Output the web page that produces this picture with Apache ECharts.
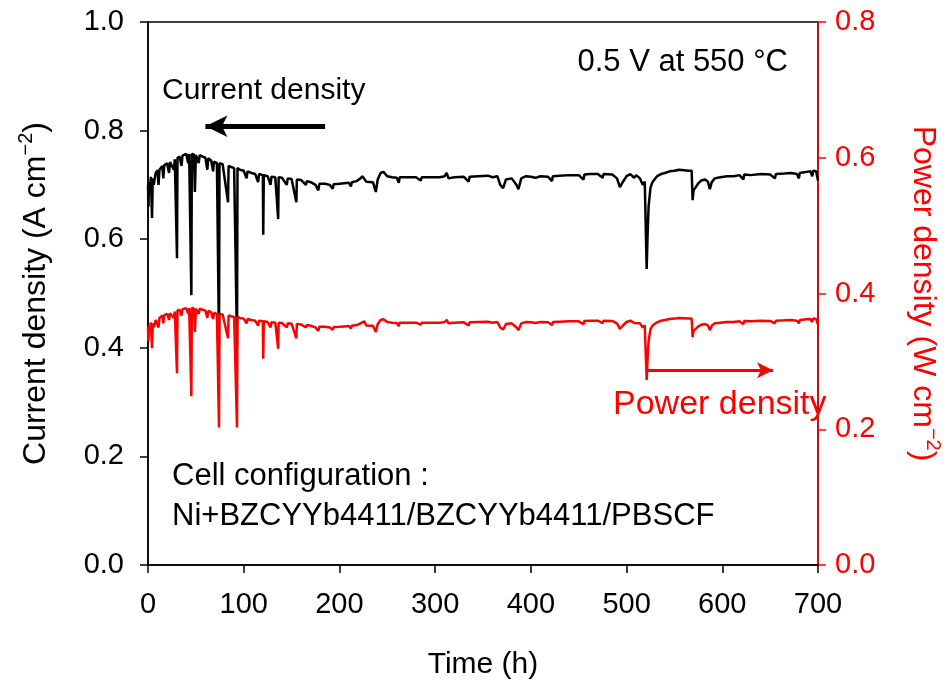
<!DOCTYPE html>
<html>
<head>
<meta charset="utf-8">
<script src="https://cdn.jsdelivr.net/npm/echarts@6/dist/echarts.min.js"></script>
<style>html,body{margin:0;padding:0;background:#fff}#c{width:950px;height:680px}</style>
</head>
<body>
<div id="c"></div>
<script>
// Time (h)
var timeH = [
0,0.5,1,2,3,4.2,5,6,8,10,
11,12,15,16,17,20,22,23,25,27,
28,30,30.3,30.8,33,35,36,40,42,43,
45,45.3,45.8,48,49,50,53,54,57,60,
62,63,66,68,69,72,74.2,74.7,78,80,
83.6,84.2,87,90,93,93.5,96,100,103,104,
108,112,115,116,120,120.4,121,125,128,129,
133,136,136.5,140,145,146,150,155,155.5,160,
165,166,170,175,178,179,185,190,193,194,
200,205,210,212,213,218,222,224,226,228,
230,235,238,240,243,246,250,255,260,262,
263,270,280,285,286,295,305,310,312,314,
320,330,335,336,345,355,360,365,368,371,
374,380,385,387,390,395,400,405,410,418,
422,423,430,440,450,455,456,462,470,475,
476,485,490,493,496,500,504,508,510,514,
517,519,521,522,523,525,527,530,532,536,
540,545,550,555,560,565,568,569,570,572,
575,578,582,585,587,589,592,598,605,612,
618,622,623,630,640,650,655,656,665,672,
678,680,681,688,692,694,695,698,699,700
];
// Current density (A cm^-2)
var currentDensity = [
0.700,0.660,0.705,0.690,0.715,0.639,0.712,0.700,0.722,0.727,
0.700,0.728,0.735,0.712,0.736,0.740,0.722,0.742,0.745,0.728,
0.747,0.750,0.565,0.750,0.752,0.735,0.754,0.757,0.740,0.757,
0.757,0.497,0.757,0.756,0.687,0.755,0.740,0.755,0.752,0.750,
0.728,0.749,0.745,0.725,0.743,0.740,0.405,0.740,0.738,0.737,
0.668,0.735,0.733,0.731,0.405,0.731,0.728,0.726,0.712,0.725,
0.722,0.720,0.705,0.720,0.718,0.608,0.718,0.716,0.700,0.715,
0.714,0.637,0.714,0.713,0.700,0.712,0.711,0.668,0.710,0.709,
0.700,0.707,0.705,0.700,0.690,0.702,0.702,0.700,0.693,0.701,
0.702,0.703,0.704,0.697,0.705,0.707,0.712,0.716,0.718,0.706,
0.708,0.705,0.687,0.710,0.722,0.724,0.716,0.714,0.713,0.704,
0.714,0.714,0.714,0.708,0.714,0.714,0.714,0.716,0.722,0.712,
0.714,0.715,0.706,0.715,0.716,0.717,0.714,0.716,0.700,0.694,
0.710,0.712,0.700,0.692,0.712,0.716,0.715,0.713,0.716,0.715,
0.707,0.716,0.717,0.718,0.718,0.710,0.719,0.720,0.720,0.713,
0.720,0.719,0.712,0.696,0.705,0.716,0.720,0.713,0.718,0.712,
0.700,0.706,0.545,0.610,0.660,0.695,0.705,0.712,0.716,0.720,
0.722,0.725,0.726,0.728,0.727,0.726,0.726,0.672,0.690,0.695,
0.703,0.708,0.710,0.706,0.692,0.705,0.712,0.714,0.716,0.716,
0.718,0.710,0.719,0.718,0.720,0.719,0.712,0.720,0.721,0.722,
0.720,0.712,0.722,0.724,0.725,0.716,0.726,0.725,0.724,0.708
];
// Power density (W cm^-2)
var powerDensity = [
0.350,0.330,0.3525,0.345,0.3575,0.3195,0.356,0.350,0.361,0.3635,
0.350,0.364,0.3675,0.356,0.368,0.370,0.361,0.371,0.3725,0.364,
0.3735,0.375,0.2825,0.375,0.376,0.3675,0.377,0.3785,0.370,0.3785,
0.3785,0.2485,0.3785,0.378,0.3435,0.3775,0.370,0.3775,0.376,0.375,
0.364,0.3745,0.3725,0.3625,0.3715,0.370,0.2025,0.370,0.369,0.3685,
0.334,0.3675,0.3665,0.3655,0.2025,0.3655,0.364,0.363,0.356,0.3625,
0.361,0.360,0.3525,0.360,0.359,0.304,0.359,0.358,0.350,0.3575,
0.357,0.3185,0.357,0.3565,0.350,0.356,0.3555,0.334,0.355,0.3545,
0.350,0.3535,0.3525,0.350,0.345,0.351,0.351,0.350,0.3465,0.3505,
0.351,0.3515,0.352,0.3485,0.3525,0.3535,0.356,0.358,0.359,0.353,
0.354,0.3525,0.3435,0.355,0.361,0.362,0.358,0.357,0.3565,0.352,
0.357,0.357,0.357,0.354,0.357,0.357,0.357,0.358,0.361,0.356,
0.357,0.3575,0.353,0.3575,0.358,0.3585,0.357,0.358,0.350,0.347,
0.355,0.356,0.350,0.346,0.356,0.358,0.3575,0.3565,0.358,0.3575,
0.3535,0.358,0.3585,0.359,0.359,0.355,0.3595,0.360,0.360,0.3565,
0.360,0.3595,0.356,0.348,0.3525,0.358,0.360,0.3565,0.359,0.356,
0.350,0.353,0.2725,0.305,0.330,0.3475,0.3525,0.356,0.358,0.360,
0.361,0.3625,0.363,0.364,0.3635,0.363,0.363,0.336,0.345,0.3475,
0.3515,0.354,0.355,0.353,0.346,0.3525,0.356,0.357,0.358,0.358,
0.359,0.355,0.3595,0.359,0.360,0.3595,0.356,0.360,0.3605,0.361,
0.360,0.356,0.361,0.362,0.3625,0.358,0.363,0.3625,0.362,0.354
];
var xTicks = [0,100,200,300,400,500,600,700];
var leftTicks = [0.0,0.2,0.4,0.6,0.8,1.0];
var rightTicks = [0.0,0.2,0.4,0.6,0.8];

var FONT = "'Liberation Sans', Arial, Helvetica, sans-serif";
var RED = '#ff0000';
var curData = timeH.map(function(t,i){return [t, currentDensity[i]];});
var powData = timeH.map(function(t,i){return [t, powerDensity[i]];});

var chart = echarts.init(document.getElementById('c'), null, {renderer:'canvas'});
function richName(color){
  return {
    a:{fontSize:32,fontFamily:FONT,color:color,lineHeight:40,verticalAlign:'middle'},
    s:{fontSize:20,fontFamily:FONT,color:color,verticalAlign:'top'}
  };
}
chart.setOption({
  animation:false,
  backgroundColor:'#fff',
  grid:{left:148,right:132,top:22,bottom:115,containLabel:false,outerBoundsMode:'none',show:true,borderColor:'#000',borderWidth:1.5,backgroundColor:'transparent'},
  xAxis:{
    type:'value',min:xTicks[0],max:xTicks[xTicks.length-1],interval:100,
    name:'Time (h)',nameLocation:'middle',nameGap:85,
    nameTextStyle:{fontSize:30,fontFamily:FONT,color:'#000'},
    axisLine:{show:true,lineStyle:{color:'#000',width:1.5}},
    axisTick:{show:true,inside:false,length:8,lineStyle:{color:'#000',width:1.5}},
    axisLabel:{fontSize:29,fontFamily:FONT,color:'#000',margin:25},
    splitLine:{show:false}
  },
  yAxis:[{
    type:'value',min:0,max:1.0,interval:0.2,position:'left',
    name:'{a|Current density (A cm}{s|−2}{a|)}',nameLocation:'middle',nameGap:92,nameRotate:90,
    nameTextStyle:{rich:richName('#000')},
    axisLine:{show:true,lineStyle:{color:'#000',width:1.5}},
    axisTick:{show:true,inside:false,length:8,lineStyle:{color:'#000',width:1.5}},
    axisLabel:{fontSize:29,fontFamily:FONT,color:'#000',margin:24,formatter:function(v){return v.toFixed(1);}},
    splitLine:{show:false}
  },{
    type:'value',min:0,max:0.8,interval:0.2,position:'right',
    name:'{a|Power density (W cm}{s|−2}{a|)}',nameLocation:'middle',nameGap:85,nameRotate:-90,
    nameTextStyle:{rich:richName(RED)},
    axisLine:{show:true,lineStyle:{color:RED,width:1.5}},
    axisTick:{show:true,inside:false,length:8,lineStyle:{color:RED,width:1.5}},
    axisLabel:{fontSize:29,fontFamily:FONT,color:RED,margin:17,formatter:function(v){return v.toFixed(1);}},
    splitLine:{show:false}
  }],
  series:[{
    name:'Current density',type:'line',yAxisIndex:0,data:curData,
    showSymbol:false,symbol:'none',lineStyle:{color:'#000',width:2.5},
    z:3,
    markLine:{silent:true,symbol:['none','arrow'],symbolSize:[16,22],label:{show:false},
      lineStyle:{color:'#000',width:5,type:'solid'},
      data:[[{coord:[185,0.808]},{coord:[60,0.808]}]]}
  },{
    name:'Power density',type:'line',yAxisIndex:1,data:powData,
    showSymbol:false,symbol:'none',lineStyle:{color:RED,width:2.5},
    z:4,
    markLine:{silent:true,symbol:['none','arrow'],symbolSize:[12,16],label:{show:false},
      lineStyle:{color:RED,width:3,type:'solid'},
      data:[[{coord:[521,0.287]},{coord:[653,0.287]}]]}
  }],
  graphic:[
    {type:'text',right:162,top:47,style:{text:'0.5 V at 550 °C',fontSize:31,fontFamily:FONT,fill:'#000'}},
    {type:'text',left:162,top:76,style:{text:'Current density',fontSize:30,fontFamily:FONT,fill:'#000'}},
    {type:'text',left:613,top:388,style:{text:'Power density',fontSize:34,fontFamily:FONT,fill:RED}},
    {type:'text',left:172,top:461,style:{text:'Cell configuration :',fontSize:31,fontFamily:FONT,fill:'#000'}},
    {type:'text',left:172,top:501,style:{text:'Ni+BZCYYb4411/BZCYYb4411/PBSCF',fontSize:31,fontFamily:FONT,fill:'#000'}}
  ]
});
</script>
</body>
</html>
